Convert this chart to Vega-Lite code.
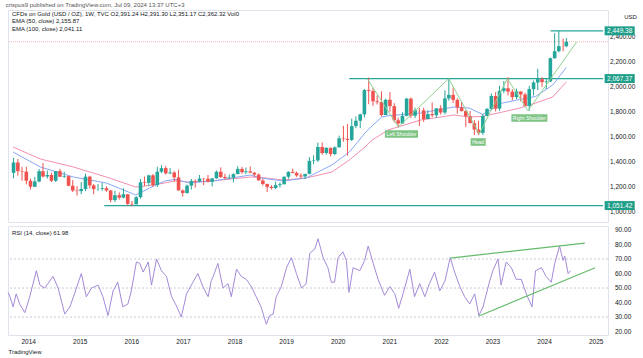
{
"$schema": "https://vega.github.io/schema/vega-lite/v6.json",
"background": "white",
"padding": {"left": 5, "top": 1, "right": 4, "bottom": 2},
"spacing": 2,
"config": {"view": {"stroke": "#e0e3eb"}, "font": "Liberation Sans", "axis": {"domain": false, "ticks": false, "grid": false, "labelFontSize": 6.5, "labelColor": "#131722", "labelOverlap": false}},
"title": {"text": "crispus9 published on TradingView.com, Jul 09, 2024 13:37 UTC+3", "fontSize": 6, "fontWeight": "normal", "color": "#555555", "anchor": "start", "offset": 2},
"datasets": {
"px": [
{"d":"2013-08-15","o":1313,"h":1434,"l":1270,"c":1396},
{"d":"2013-09-15","o":1396,"h":1424,"l":1291,"c":1327},
{"d":"2013-10-15","o":1327,"h":1361,"l":1251,"c":1323},
{"d":"2013-11-15","o":1323,"h":1362,"l":1221,"c":1250},
{"d":"2013-12-15","o":1250,"h":1267,"l":1180,"c":1202},
{"d":"2014-01-15","o":1202,"h":1280,"l":1200,"c":1244},
{"d":"2014-02-15","o":1244,"h":1345,"l":1238,"c":1326},
{"d":"2014-03-15","o":1326,"h":1392,"l":1277,"c":1284},
{"d":"2014-04-15","o":1284,"h":1331,"l":1268,"c":1296},
{"d":"2014-05-15","o":1296,"h":1315,"l":1240,"c":1250},
{"d":"2014-06-15","o":1250,"h":1325,"l":1240,"c":1327},
{"d":"2014-07-15","o":1327,"h":1345,"l":1280,"c":1282},
{"d":"2014-08-15","o":1282,"h":1322,"l":1273,"c":1287},
{"d":"2014-09-15","o":1287,"h":1292,"l":1206,"c":1210},
{"d":"2014-10-15","o":1210,"h":1255,"l":1160,"c":1171},
{"d":"2014-11-15","o":1171,"h":1207,"l":1131,"c":1167},
{"d":"2014-12-15","o":1167,"h":1239,"l":1142,"c":1184},
{"d":"2015-01-15","o":1184,"h":1307,"l":1167,"c":1283},
{"d":"2015-02-15","o":1283,"h":1290,"l":1190,"c":1213},
{"d":"2015-03-15","o":1213,"h":1224,"l":1142,"c":1183},
{"d":"2015-04-15","o":1183,"h":1224,"l":1170,"c":1184},
{"d":"2015-05-15","o":1184,"h":1232,"l":1170,"c":1190},
{"d":"2015-06-15","o":1190,"h":1205,"l":1162,"c":1172},
{"d":"2015-07-15","o":1172,"h":1175,"l":1077,"c":1095},
{"d":"2015-08-15","o":1095,"h":1170,"l":1080,"c":1134},
{"d":"2015-09-15","o":1134,"h":1157,"l":1099,"c":1115},
{"d":"2015-10-15","o":1115,"h":1191,"l":1110,"c":1142},
{"d":"2015-11-15","o":1142,"h":1143,"l":1052,"c":1065},
{"d":"2015-12-15","o":1065,"h":1088,"l":1046,"c":1061},
{"d":"2016-01-15","o":1061,"h":1127,"l":1061,"c":1118},
{"d":"2016-02-15","o":1118,"h":1263,"l":1108,"c":1238},
{"d":"2016-03-15","o":1238,"h":1283,"l":1208,"c":1233},
{"d":"2016-04-15","o":1233,"h":1298,"l":1206,"c":1293},
{"d":"2016-05-15","o":1293,"h":1304,"l":1200,"c":1215},
{"d":"2016-06-15","o":1215,"h":1362,"l":1200,"c":1322},
{"d":"2016-07-15","o":1322,"h":1375,"l":1310,"c":1351},
{"d":"2016-08-15","o":1351,"h":1367,"l":1300,"c":1309},
{"d":"2016-09-15","o":1309,"h":1352,"l":1302,"c":1316},
{"d":"2016-10-15","o":1316,"h":1326,"l":1241,"c":1277},
{"d":"2016-11-15","o":1277,"h":1338,"l":1171,"c":1173},
{"d":"2016-12-15","o":1173,"h":1180,"l":1123,"c":1152},
{"d":"2017-01-15","o":1152,"h":1220,"l":1146,"c":1211},
{"d":"2017-02-15","o":1211,"h":1264,"l":1180,"c":1249},
{"d":"2017-03-15","o":1249,"h":1261,"l":1195,"c":1245},
{"d":"2017-04-15","o":1245,"h":1296,"l":1241,"c":1268},
{"d":"2017-05-15","o":1268,"h":1272,"l":1214,"c":1266},
{"d":"2017-06-15","o":1266,"h":1296,"l":1236,"c":1242},
{"d":"2017-07-15","o":1242,"h":1270,"l":1205,"c":1269},
{"d":"2017-08-15","o":1269,"h":1331,"l":1267,"c":1322},
{"d":"2017-09-15","o":1322,"h":1357,"l":1272,"c":1280},
{"d":"2017-10-15","o":1280,"h":1306,"l":1260,"c":1271},
{"d":"2017-11-15","o":1271,"h":1299,"l":1264,"c":1275},
{"d":"2017-12-15","o":1275,"h":1310,"l":1236,"c":1303},
{"d":"2018-01-15","o":1303,"h":1366,"l":1302,"c":1345},
{"d":"2018-02-15","o":1345,"h":1361,"l":1307,"c":1318},
{"d":"2018-03-15","o":1318,"h":1356,"l":1303,"c":1325},
{"d":"2018-04-15","o":1325,"h":1365,"l":1310,"c":1315},
{"d":"2018-05-15","o":1315,"h":1318,"l":1281,"c":1299},
{"d":"2018-06-15","o":1299,"h":1309,"l":1250,"c":1253},
{"d":"2018-07-15","o":1253,"h":1265,"l":1211,"c":1224},
{"d":"2018-08-15","o":1224,"h":1227,"l":1160,"c":1201},
{"d":"2018-09-15","o":1201,"h":1214,"l":1180,"c":1192},
{"d":"2018-10-15","o":1192,"h":1243,"l":1182,"c":1215},
{"d":"2018-11-15","o":1215,"h":1237,"l":1196,"c":1222},
{"d":"2018-12-15","o":1222,"h":1285,"l":1221,"c":1282},
{"d":"2019-01-15","o":1282,"h":1326,"l":1266,"c":1321},
{"d":"2019-02-15","o":1321,"h":1347,"l":1310,"c":1313},
{"d":"2019-03-15","o":1313,"h":1324,"l":1281,"c":1292},
{"d":"2019-04-15","o":1292,"h":1310,"l":1266,"c":1284},
{"d":"2019-05-15","o":1284,"h":1306,"l":1266,"c":1305},
{"d":"2019-06-15","o":1305,"h":1439,"l":1301,"c":1409},
{"d":"2019-07-15","o":1409,"h":1453,"l":1382,"c":1413},
{"d":"2019-08-15","o":1413,"h":1555,"l":1400,"c":1520},
{"d":"2019-09-15","o":1520,"h":1557,"l":1459,"c":1472},
{"d":"2019-10-15","o":1472,"h":1518,"l":1458,"c":1513},
{"d":"2019-11-15","o":1513,"h":1516,"l":1445,"c":1464},
{"d":"2019-12-15","o":1464,"h":1525,"l":1454,"c":1517},
{"d":"2020-01-15","o":1517,"h":1611,"l":1517,"c":1589},
{"d":"2020-02-15","o":1589,"h":1689,"l":1563,"c":1585},
{"d":"2020-03-15","o":1585,"h":1704,"l":1451,"c":1577},
{"d":"2020-04-15","o":1577,"h":1747,"l":1567,"c":1687},
{"d":"2020-05-15","o":1687,"h":1765,"l":1670,"c":1730},
{"d":"2020-06-15","o":1730,"h":1786,"l":1671,"c":1781},
{"d":"2020-07-15","o":1781,"h":1984,"l":1758,"c":1975},
{"d":"2020-08-15","o":1975,"h":2075,"l":1863,"c":1968},
{"d":"2020-09-15","o":1968,"h":1992,"l":1849,"c":1886},
{"d":"2020-10-15","o":1886,"h":1933,"l":1860,"c":1879},
{"d":"2020-11-15","o":1879,"h":1966,"l":1764,"c":1776},
{"d":"2020-12-15","o":1776,"h":1906,"l":1775,"c":1898},
{"d":"2021-01-15","o":1898,"h":1959,"l":1802,"c":1847},
{"d":"2021-02-15","o":1847,"h":1871,"l":1717,"c":1734},
{"d":"2021-03-15","o":1734,"h":1755,"l":1677,"c":1708},
{"d":"2021-04-15","o":1708,"h":1798,"l":1706,"c":1769},
{"d":"2021-05-15","o":1769,"h":1913,"l":1765,"c":1907},
{"d":"2021-06-15","o":1907,"h":1916,"l":1750,"c":1770},
{"d":"2021-07-15","o":1770,"h":1834,"l":1751,"c":1814},
{"d":"2021-08-15","o":1814,"h":1832,"l":1688,"c":1813},
{"d":"2021-09-15","o":1813,"h":1834,"l":1721,"c":1743},
{"d":"2021-10-15","o":1743,"h":1814,"l":1746,"c":1783},
{"d":"2021-11-15","o":1783,"h":1877,"l":1759,"c":1774},
{"d":"2021-12-15","o":1774,"h":1831,"l":1753,"c":1829},
{"d":"2022-01-15","o":1829,"h":1853,"l":1780,"c":1796},
{"d":"2022-02-15","o":1796,"h":1974,"l":1781,"c":1909},
{"d":"2022-03-15","o":1909,"h":2070,"l":1890,"c":1937},
{"d":"2022-04-15","o":1937,"h":1998,"l":1872,"c":1897},
{"d":"2022-05-15","o":1897,"h":1910,"l":1787,"c":1837},
{"d":"2022-06-15","o":1837,"h":1879,"l":1805,"c":1807},
{"d":"2022-07-15","o":1807,"h":1814,"l":1681,"c":1766},
{"d":"2022-08-15","o":1766,"h":1808,"l":1710,"c":1711},
{"d":"2022-09-15","o":1711,"h":1735,"l":1615,"c":1660},
{"d":"2022-10-15","o":1660,"h":1730,"l":1617,"c":1633},
{"d":"2022-11-15","o":1633,"h":1786,"l":1616,"c":1768},
{"d":"2022-12-15","o":1768,"h":1833,"l":1765,"c":1824},
{"d":"2023-01-15","o":1824,"h":1949,"l":1823,"c":1928},
{"d":"2023-02-15","o":1928,"h":1959,"l":1804,"c":1827},
{"d":"2023-03-15","o":1827,"h":2009,"l":1810,"c":1969},
{"d":"2023-04-15","o":1969,"h":2048,"l":1950,"c":1990},
{"d":"2023-05-15","o":1990,"h":2079,"l":1932,"c":1963},
{"d":"2023-06-15","o":1963,"h":1983,"l":1893,"c":1919},
{"d":"2023-07-15","o":1919,"h":1987,"l":1903,"c":1965},
{"d":"2023-08-15","o":1965,"h":1966,"l":1885,"c":1940},
{"d":"2023-09-15","o":1940,"h":1953,"l":1846,"c":1849},
{"d":"2023-10-15","o":1849,"h":2009,"l":1810,"c":1983},
{"d":"2023-11-15","o":1983,"h":2052,"l":1931,"c":2036},
{"d":"2023-12-15","o":2036,"h":2146,"l":1974,"c":2063},
{"d":"2024-01-15","o":2063,"h":2079,"l":2001,"c":2039},
{"d":"2024-02-15","o":2039,"h":2065,"l":1984,"c":2044},
{"d":"2024-03-15","o":2044,"h":2236,"l":2039,"c":2230},
{"d":"2024-04-15","o":2230,"h":2431,"l":2228,"c":2286},
{"d":"2024-05-15","o":2286,"h":2450,"l":2277,"c":2327},
{"d":"2024-06-15","o":2327,"h":2387,"l":2286,"c":2326},
{"d":"2024-07-08","o":2326,"h":2393,"l":2319,"c":2362}
],
"ema": [
{"d":"2013-08-11","e50":1480,"e100":1520},
{"d":"2014-02-24","e50":1360,"e100":1424},
{"d":"2014-10-20","e50":1280,"e100":1360},
{"d":"2015-06-14","e50":1232,"e100":1280},
{"d":"2016-01-12","e50":1136,"e100":1200},
{"d":"2016-04-20","e50":1192,"e100":1212},
{"d":"2016-08-08","e50":1248,"e100":1232},
{"d":"2016-10-20","e50":1262,"e100":1250},
{"d":"2017-02-01","e50":1232,"e100":1240},
{"d":"2017-08-01","e50":1250,"e100":1250},
{"d":"2018-04-15","e50":1296,"e100":1280},
{"d":"2018-07-01","e50":1272,"e100":1276},
{"d":"2018-12-10","e50":1248,"e100":1256},
{"d":"2019-05-23","e50":1272,"e100":1272},
{"d":"2019-11-24","e50":1376,"e100":1320},
{"d":"2020-03-29","e50":1480,"e100":1416},
{"d":"2020-07-19","e50":1632,"e100":1520},
{"d":"2020-09-09","e50":1690,"e100":1576},
{"d":"2020-11-17","e50":1760,"e100":1624},
{"d":"2021-01-01","e50":1770,"e100":1656},
{"d":"2021-08-25","e50":1792,"e100":1736},
{"d":"2022-04-20","e50":1840,"e100":1776},
{"d":"2022-08-08","e50":1832,"e100":1760},
{"d":"2022-11-14","e50":1780,"e100":1765},
{"d":"2023-04-06","e50":1872,"e100":1800},
{"d":"2023-08-08","e50":1900,"e100":1832},
{"d":"2023-12-01","e50":1925,"e100":1872},
{"d":"2024-04-01","e50":2016,"e100":1920},
{"d":"2024-07-08","e50":2156,"e100":2041}
],
"lv": [
{"s":"2015-05-30","e":"2025-03-29","p":1051.42,"t":"1,051.42"},
{"s":"2020-03-28","e":"2025-03-29","p":2067.37,"t":"2,067.37"},
{"s":"2024-03-17","e":"2025-03-29","p":2449.38,"t":"2,449.38"}
],
"hs": [
{"i":1,"d":"2020-08-04","p":2067},
{"i":2,"d":"2021-03-17","p":1680},
{"i":3,"d":"2022-03-14","p":2067},
{"i":4,"d":"2022-10-20","p":1625},
{"i":5,"d":"2023-05-10","p":2067},
{"i":6,"d":"2023-10-06","p":1810},
{"i":7,"d":"2024-09-20","p":2360}
],
"hsl": [
{"d":"2021-04-08","p":1624,"t":"Left Shoulder"},
{"d":"2022-10-12","p":1560,"t":"Head"},
{"d":"2023-10-16","p":1752,"t":"Right Shoulder"}
],
"pax": [{"v":1000},{"v":1200},{"v":1400},{"v":1600},{"v":1800},{"v":2000},{"v":2200},{"v":2400}],
"rsi": [
{"d":"2013-08-12","r":47},{"d":"2013-08-25","r":44},{"d":"2013-09-16","r":37},{"d":"2013-10-08","r":46},
{"d":"2013-11-02","r":39},{"d":"2013-12-08","r":33},{"d":"2014-01-12","r":44},{"d":"2014-02-28","r":62},
{"d":"2014-03-25","r":52},{"d":"2014-04-28","r":50},{"d":"2014-06-26","r":58},{"d":"2014-08-01","r":50},
{"d":"2014-09-17","r":32},{"d":"2014-10-23","r":37},{"d":"2014-11-25","r":46},{"d":"2015-01-12","r":60},
{"d":"2015-02-17","r":44},{"d":"2015-03-25","r":50},{"d":"2015-05-11","r":52},{"d":"2015-06-14","r":44},
{"d":"2015-07-20","r":31},{"d":"2015-08-25","r":48},{"d":"2015-09-27","r":54},{"d":"2015-11-02","r":37},
{"d":"2015-12-08","r":39},{"d":"2016-01-01","r":48},{"d":"2016-02-06","r":68},{"d":"2016-03-01","r":67},
{"d":"2016-03-25","r":61},{"d":"2016-04-30","r":68},{"d":"2016-05-23","r":52},{"d":"2016-06-28","r":70},
{"d":"2016-08-01","r":62},{"d":"2016-09-06","r":58},{"d":"2016-10-12","r":44},{"d":"2016-11-14","r":38},
{"d":"2016-12-20","r":30},{"d":"2017-01-26","r":46},{"d":"2017-03-01","r":52},{"d":"2017-04-16","r":60},
{"d":"2017-05-22","r":51},{"d":"2017-06-28","r":44},{"d":"2017-07-20","r":55},{"d":"2017-08-03","r":58},
{"d":"2017-09-05","r":67},{"d":"2017-10-11","r":50},{"d":"2017-11-16","r":53},{"d":"2017-12-09","r":44},
{"d":"2018-01-15","r":63},{"d":"2018-02-18","r":58},{"d":"2018-03-25","r":56},{"d":"2018-04-30","r":51},
{"d":"2018-06-03","r":44},{"d":"2018-07-08","r":37},{"d":"2018-08-14","r":25},{"d":"2018-09-06","r":31},
{"d":"2018-10-01","r":32},{"d":"2018-10-23","r":44},{"d":"2018-11-28","r":51},{"d":"2019-01-04","r":64},
{"d":"2019-02-07","r":71},{"d":"2019-03-15","r":60},{"d":"2019-04-20","r":50},{"d":"2019-05-23","r":53},
{"d":"2019-06-18","r":74},{"d":"2019-07-24","r":77},{"d":"2019-08-15","r":84},{"d":"2019-09-20","r":71},
{"d":"2019-10-24","r":64},{"d":"2019-11-17","r":54},{"d":"2019-12-10","r":54},{"d":"2020-01-04","r":71},
{"d":"2020-02-07","r":75},{"d":"2020-03-03","r":69},{"d":"2020-03-21","r":47},{"d":"2020-04-19","r":64},
{"d":"2020-06-06","r":62},{"d":"2020-07-10","r":69},{"d":"2020-08-04","r":79},{"d":"2020-09-09","r":67},
{"d":"2020-10-13","r":56},{"d":"2020-11-28","r":45},{"d":"2021-01-04","r":51},{"d":"2021-02-09","r":46},
{"d":"2021-03-08","r":36},{"d":"2021-04-08","r":46},{"d":"2021-05-26","r":63},{"d":"2021-06-28","r":44},
{"d":"2021-08-04","r":53},{"d":"2021-09-09","r":44},{"d":"2021-10-12","r":53},{"d":"2021-11-17","r":61},
{"d":"2021-12-24","r":48},{"d":"2022-01-30","r":55},{"d":"2022-03-08","r":71},{"d":"2022-04-08","r":61},
{"d":"2022-05-15","r":51},{"d":"2022-06-18","r":44},{"d":"2022-07-24","r":39},{"d":"2022-08-28","r":46},
{"d":"2022-09-27","r":31},{"d":"2022-10-26","r":37},{"d":"2022-12-13","r":55},{"d":"2023-01-04","r":62},
{"d":"2023-02-09","r":70},{"d":"2023-03-03","r":52},{"d":"2023-04-08","r":68},{"d":"2023-05-15","r":64},
{"d":"2023-06-18","r":56},{"d":"2023-07-24","r":56},{"d":"2023-08-28","r":46},{"d":"2023-10-08","r":37},
{"d":"2023-11-02","r":62},{"d":"2023-12-14","r":64},{"d":"2024-01-16","r":58},{"d":"2024-02-21","r":54},
{"d":"2024-03-17","r":67},{"d":"2024-04-20","r":79},{"d":"2024-05-15","r":69},{"d":"2024-05-27","r":72},
{"d":"2024-06-20","r":60},{"d":"2024-07-08","r":62}
],
"rl": [
{"s":"2022-03-08","e":"2024-10-16","a":70.7,"b":81},
{"s":"2022-09-27","e":"2024-12-28","a":30.7,"b":64}
],
"rb": [{"v":70},{"v":50},{"v":30}],
"rax": [{"v":20},{"v":30},{"v":40},{"v":50},{"v":60},{"v":70},{"v":80},{"v":90}]
},
"vconcat": [
{
"width": 600, "height": 212,
"title": {"text": "CFDs on Gold (USD / OZ), 1W, TVC  O2,391.24 H2,391.30 L2,351.17 C2,362.32 Vol0", "subtitle": ["EMA (50, close)  2,155.87", "EMA (100, close)  2,041.11"], "anchor": "start", "frame": "group", "offset": -22, "fontSize": 6, "fontWeight": "normal", "color": "#131722", "subtitleFontSize": 6, "subtitleColor": "#131722", "subtitlePadding": 1, "dx": 4},
"layer": [
{"data": {"name": "lv"}, "mark": {"type": "rule", "color": "#26a69a", "strokeWidth": 1.2},
 "encoding": {
  "x": {"field": "s", "type": "temporal", "axis": null, "scale": {"type": "utc", "domain": [{"year":2013,"month":8,"date":11,"utc":true},{"year":2025,"month":3,"date":29,"utc":true}]}},
  "x2": {"field": "e"},
  "y": {"field": "p", "type": "quantitative", "scale": {"domain": [920, 2616], "nice": false, "zero": false},
   "axis": {"orient": "right", "values": [2400], "labels": false, "title": "USD", "titleAngle": 0, "titleFontSize": 6, "titleFontWeight": "normal", "titleColor": "#131722", "titleAnchor": "end", "titleAlign": "center", "titleBaseline": "middle", "titleX": 22, "titleY": 6}}
 }},
{"data": {"name": "pax"}, "mark": {"type": "text", "align": "left", "baseline": "middle", "fontSize": 6.5, "color": "#131722", "dx": 7},
 "encoding": {"x": {"datum": {"year": 2025, "month": 3, "date": 29, "utc": true}, "type": "temporal", "axis": null}, "y": {"field": "v", "type": "quantitative"}, "text": {"field": "v", "format": ",.2f"}}},
{"data": {"values": [{"p": 2362.32}]}, "mark": {"type": "rule", "color": "#f6a3a8", "strokeWidth": 0.8, "strokeDash": [1, 1]},
 "encoding": {"y": {"field": "p", "type": "quantitative"}}},
{"data": {"name": "ema"}, "mark": {"type": "line", "color": "#f48fb1", "strokeWidth": 1},
 "encoding": {"x": {"field": "d", "type": "temporal", "axis": null}, "y": {"field": "e100", "type": "quantitative"}}},
{"data": {"name": "ema"}, "mark": {"type": "line", "color": "#8aa8f8", "strokeWidth": 1},
 "encoding": {"x": {"field": "d", "type": "temporal", "axis": null}, "y": {"field": "e50", "type": "quantitative"}}},
{"data": {"name": "px"}, "mark": {"type": "rule", "strokeWidth": 1},
 "encoding": {"x": {"field": "d", "type": "temporal", "axis": null}, "y": {"field": "l", "type": "quantitative"}, "y2": {"field": "h"},
  "color": {"condition": {"test": "datum.c >= datum.o", "value": "#26a69a"}, "value": "#ef5350"}}},
{"data": {"name": "px"}, "mark": {"type": "bar", "size": 3.6},
 "encoding": {"x": {"field": "d", "type": "temporal", "axis": null}, "y": {"field": "o", "type": "quantitative"}, "y2": {"field": "c"},
  "color": {"condition": {"test": "datum.c >= datum.o", "value": "#26a69a"}, "value": "#ef5350"}}},
{"data": {"name": "hs"}, "mark": {"type": "line", "color": "#8fd18f", "strokeWidth": 1},
 "encoding": {"x": {"field": "d", "type": "temporal", "axis": null}, "y": {"field": "p", "type": "quantitative"}, "order": {"field": "i"}}},
{"data": {"name": "hsl"}, "mark": {"type": "point", "filled": true, "size": 1296, "color": "#7dc383", "opacity": 1},
 "encoding": {"x": {"field": "d", "type": "temporal", "axis": null}, "y": {"field": "p", "type": "quantitative"},
  "shape": {"field": "t", "type": "nominal", "legend": null, "scale": {"domain": ["Left Shoulder", "Head", "Right Shoulder"], "range": ["M-0.92,-0.21H0.92V0.21H-0.92Z", "M-0.42,-0.21H0.42V0.21H-0.42Z", "M-1,-0.21H1V0.21H-1Z"]}}}},
{"data": {"name": "hsl"}, "mark": {"type": "text", "fontSize": 5, "color": "white", "align": "center", "baseline": "middle"},
 "encoding": {"x": {"field": "d", "type": "temporal", "axis": null}, "y": {"field": "p", "type": "quantitative"}, "text": {"field": "t"}}},
{"data": {"name": "lv"}, "mark": {"type": "point", "filled": true, "size": 1024, "color": "#1f9e89", "opacity": 1, "shape": "M-0.94,-0.28H0.94V0.28H-0.94Z"},
 "encoding": {"x": {"datum": {"year": 2025, "month": 7, "date": 27, "utc": true}, "type": "temporal", "axis": null}, "y": {"field": "p", "type": "quantitative"}}},
{"data": {"name": "lv"}, "mark": {"type": "text", "fontSize": 6.5, "color": "white", "align": "center", "baseline": "middle"},
 "encoding": {"x": {"datum": {"year": 2025, "month": 7, "date": 27, "utc": true}, "type": "temporal", "axis": null}, "y": {"field": "p", "type": "quantitative"}, "text": {"field": "t"}}}
]
},
{
"width": 600, "height": 109,
"title": {"text": "RSI (14, close)  61.98", "anchor": "start", "frame": "group", "offset": -10, "fontSize": 6, "fontWeight": "normal", "color": "#131722", "dx": 4},
"layer": [
{"data": {"name": "rb"}, "mark": {"type": "rule", "color": "#b8bcc8", "strokeWidth": 0.8, "strokeDash": [2, 2]},
 "encoding": {"y": {"field": "v", "type": "quantitative", "scale": {"domain": [17.6, 92.8], "nice": false, "zero": false}, "axis": null}}},
{"data": {"name": "rax"}, "mark": {"type": "text", "align": "left", "baseline": "middle", "fontSize": 6.5, "color": "#131722", "dx": 7},
 "encoding": {"x": {"datum": {"year": 2025, "month": 3, "date": 29, "utc": true}, "type": "temporal"}, "y": {"field": "v", "type": "quantitative", "axis": null}, "text": {"field": "v", "format": ".2f"}}},
{"data": {"name": "rsi"}, "mark": {"type": "line", "color": "#a48ad8", "strokeWidth": 1},
 "encoding": {
  "x": {"field": "d", "type": "temporal", "scale": {"type": "utc", "domain": [{"year":2013,"month":8,"date":11,"utc":true},{"year":2025,"month":3,"date":29,"utc":true}]},
   "axis": {"format": "%Y", "tickCount": "year", "labelPadding": 3, "title": "TradingView", "titleFontSize": 6, "titleFontWeight": "normal", "titleColor": "#131722", "titleAnchor": "start", "titleAlign": "left", "titlePadding": 4}},
  "y": {"field": "r", "type": "quantitative", "axis": null}}},
{"data": {"name": "rl"}, "mark": {"type": "rule", "color": "#66bb6a", "strokeWidth": 1.2},
 "encoding": {"x": {"field": "s", "type": "temporal"}, "x2": {"field": "e"}, "y": {"field": "a", "type": "quantitative", "axis": null}, "y2": {"field": "b"}}}
]
}
]
}
